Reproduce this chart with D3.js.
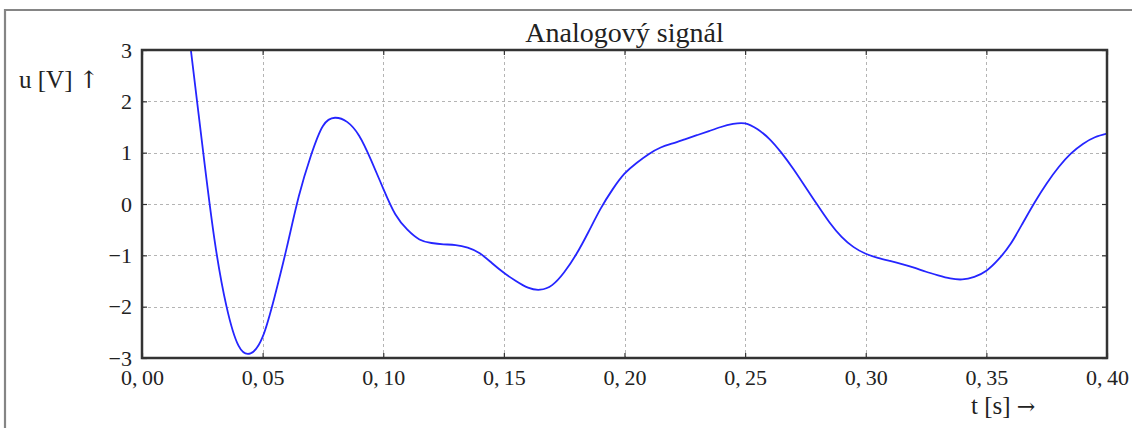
<!DOCTYPE html>
<html>
<head>
<meta charset="utf-8">
<script src="https://cdn.jsdelivr.net/npm/d3@7"></script>
<style>
html,body{margin:0;padding:0;background:#fff;}
svg{display:block;}
text{font-family:"Liberation Serif","Times New Roman",serif;fill:#222;}
</style>
</head>
<body>
<svg id="chart" width="1132" height="428"></svg>
<script>
const timeS = [0.015,0.020,0.025,0.030,0.035,0.040,0.045,0.050,0.055,0.060,0.065,0.070,0.075,0.080,0.085,0.090,0.095,0.100,0.105,0.110,0.115,0.120,0.125,0.130,0.135,0.140,0.145,0.150,0.155,0.160,0.165,0.170,0.175,0.180,0.185,0.190,0.195,0.200,0.205,0.210,0.215,0.220,0.225,0.230,0.235,0.240,0.245,0.250,0.255,0.260,0.265,0.270,0.275,0.280,0.285,0.290,0.295,0.300,0.305,0.310,0.315,0.320,0.325,0.330,0.335,0.340,0.345,0.350,0.355,0.360,0.365,0.370,0.375,0.380,0.385,0.390,0.395,0.400];
const voltageV = [5.0,3.1,1.15,-0.68,-1.99,-2.76,-2.91,-2.59,-1.80,-0.85,0.15,0.94,1.52,1.68,1.60,1.33,0.85,0.30,-0.20,-0.50,-0.69,-0.76,-0.785,-0.80,-0.85,-0.96,-1.15,-1.34,-1.50,-1.63,-1.67,-1.58,-1.33,-0.98,-0.55,-0.10,0.28,0.59,0.80,0.97,1.10,1.18,1.26,1.34,1.42,1.50,1.56,1.57,1.46,1.27,1.00,0.68,0.33,-0.02,-0.36,-0.64,-0.84,-0.97,-1.05,-1.11,-1.17,-1.24,-1.32,-1.39,-1.45,-1.47,-1.42,-1.30,-1.08,-0.78,-0.38,0.03,0.40,0.72,0.98,1.17,1.30,1.37];
const xTicks = [0,0.05,0.10,0.15,0.20,0.25,0.30,0.35,0.40];
const xTickLabels = ["0,\u200900","0,\u200905","0,\u200910","0,\u200915","0,\u200920","0,\u200925","0,\u200930","0,\u200935","0,\u200940"];
const yTicks = [-3,-2,-1,0,1,2,3];
const yTickLabels = ["\u22123","\u22122","\u22121","0","1","2","3"];
const titleText = "Analogový signál";
const yLabelText = "u [V]";
const xLabelText = "t [s]";

// ---- layout ----
const svg = d3.select("#chart");
const L = 142, R = 1107, T = 50, B = 358;
const x = d3.scaleLinear().domain([0, 0.4]).range([L, R]);
const y = d3.scaleLinear().domain([-3, 3]).range([B, T]);

// outer grey frame (top + left)
svg.append("path").attr("d", `M5,428 L5,10 L1132,10`)
  .attr("fill","none").attr("stroke","#858585").attr("stroke-width",2.2);

// grid
const grid = svg.append("g").attr("stroke","#b4b4b4").attr("stroke-width",1).attr("stroke-dasharray","3,3");
grid.selectAll("line.vx").data(xTicks.slice(1,-1)).enter().append("line")
  .attr("x1",d=>Math.round(x(d))+0.5).attr("x2",d=>Math.round(x(d))+0.5).attr("y1",T).attr("y2",B);
grid.selectAll("line.hy").data(yTicks.slice(1,-1)).enter().append("line")
  .attr("x1",L).attr("x2",R).attr("y1",d=>Math.round(y(d))+0.5).attr("y2",d=>Math.round(y(d))+0.5);

// clip
svg.append("defs").append("clipPath").attr("id","clip").append("rect")
  .attr("x",L).attr("y",T).attr("width",R-L).attr("height",B-T);

// curve
const pts = timeS.map((t,i)=>[t, voltageV[i]]);
const line = d3.line().x(d=>x(d[0])).y(d=>y(d[1])).curve(d3.curveNatural);
svg.append("path").datum(pts).attr("clip-path","url(#clip)")
  .attr("d", line).attr("fill","none").attr("stroke","#2525ff").attr("stroke-width",1.8);

// axes with inward ticks
const frameColor = "#333";
function styleAxis(g){
  g.select(".domain").remove();
  g.selectAll(".tick line").attr("stroke",frameColor).attr("stroke-width",1.2);
}
const axB = svg.append("g").attr("transform",`translate(0,${B})`)
  .call(d3.axisBottom(x).tickValues(xTicks).tickSize(-5).tickFormat((d,i)=>xTickLabels[i]).tickPadding(10));
styleAxis(axB);
axB.selectAll(".tick text").attr("font-size",22).attr("font-family","Liberation Serif").attr("fill","#222").attr("dy","0.75em");
const axT = svg.append("g").attr("transform",`translate(0,${T})`)
  .call(d3.axisTop(x).tickValues(xTicks).tickSize(-5).tickFormat(""));
styleAxis(axT);
const axL = svg.append("g").attr("transform",`translate(${L},0)`)
  .call(d3.axisLeft(y).tickValues(yTicks).tickSize(-5).tickFormat((d,i)=>yTickLabels[i]).tickPadding(10));
styleAxis(axL);
axL.selectAll(".tick text").attr("font-size",22).attr("font-family","Liberation Serif").attr("fill","#222");
const axR = svg.append("g").attr("transform",`translate(${R},0)`)
  .call(d3.axisRight(y).tickValues(yTicks).tickSize(-5).tickFormat(""));
styleAxis(axR);

// frame
svg.append("rect").attr("x",L).attr("y",T).attr("width",R-L).attr("height",B-T)
  .attr("fill","none").attr("stroke",frameColor).attr("stroke-width",2.5);

// title and labels
svg.append("text").attr("x",(L+R)/2).attr("y",42).attr("text-anchor","middle")
  .attr("font-size",28).text(titleText);
const yl = svg.append("text").attr("x",19).attr("y",88).attr("font-size",25);
yl.append("tspan").text(yLabelText + " ");
yl.append("tspan").attr("font-family","DejaVu Serif").attr("font-size",24).text("\u2191");
const xl = svg.append("text").attr("x",971).attr("y",414).attr("font-size",25);
xl.append("tspan").text(xLabelText + " ");
xl.append("tspan").attr("font-family","DejaVu Serif").attr("font-size",22).text("\u2192");
</script>
</body>
</html>
